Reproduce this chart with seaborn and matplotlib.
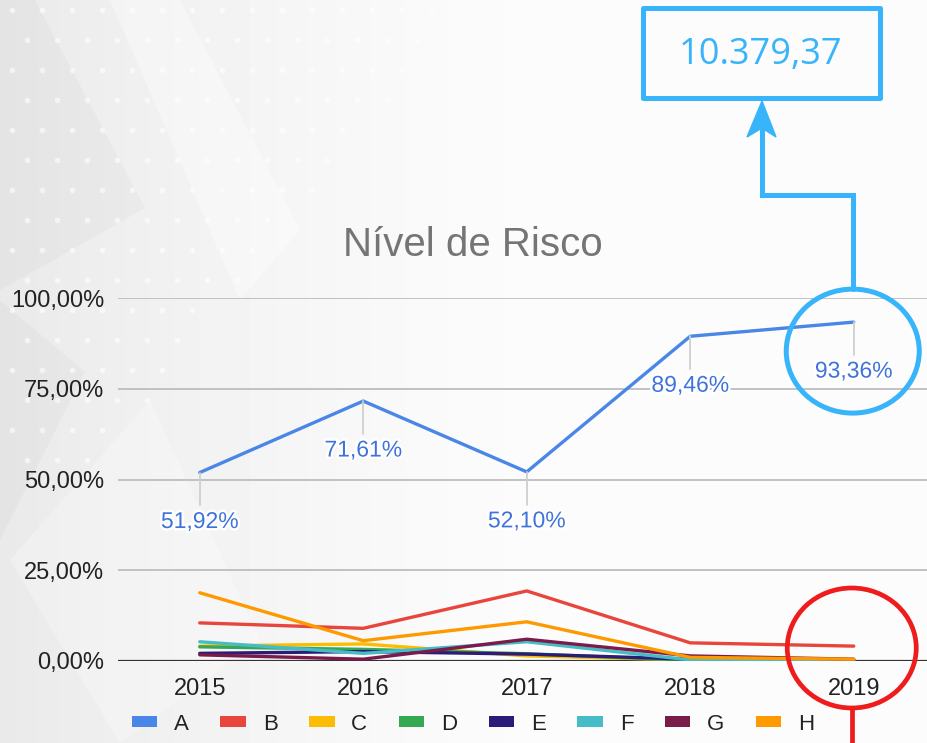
import numpy as np
import pandas as pd
import matplotlib
matplotlib.use("Agg")
import matplotlib.pyplot as plt
import matplotlib.patheffects as pe
from matplotlib.patches import Ellipse, Rectangle, Polygon, Patch
from matplotlib.lines import Line2D
from matplotlib.ticker import FuncFormatter
import seaborn as sns

# Dados do gráfico
anos = [2015, 2016, 2017, 2018, 2019]
series = ["A", "B", "C", "D", "E", "F", "G", "H"]
risco_a = [51.92, 71.61, 52.10, 89.46, 93.36]
risco_b = [10.5, 9.0, 19.3, 5.0, 4.1]
risco_c = [4.1, 4.7, 1.4, 0.3, 0.2]
risco_d = [3.9, 3.2, 2.0, 0.2, 0.1]
risco_e = [2.1, 2.6, 1.9, 0.5, 0.2]
risco_f = [5.3, 2.1, 5.3, 0.3, 0.1]
risco_g = [1.7, 0.5, 6.0, 1.4, 0.5]
risco_h = [18.8, 5.6, 10.8, 1.0, 0.5]
cores = ["#4a86e8", "#e8453c", "#fbbc04", "#34a853", "#2d1b78", "#46bdc6", "#7a1c4a", "#ff9900"]
yticks = [0, 25, 50, 75, 100]
titulo = "Nível de Risco"
total = "10.379,37"

valores = [risco_a, risco_b, risco_c, risco_d, risco_e, risco_f, risco_g, risco_h]
df = pd.DataFrame({
    "ano": np.tile(anos, len(series)),
    "serie": np.repeat(series, len(anos)),
    "risco": np.concatenate(valores),
})

sns.set_style("white")
plt.rcParams["font.family"] = ["Liberation Sans", "DejaVu Sans"]

W, H = 928, 743
fig = plt.figure(figsize=(W / 100, H / 100), dpi=100)

# fundo cinza claro com degradê, faixas diagonais e pontos decorativos
bg = fig.add_axes([0, 0, 1, 1], zorder=-5)
xx, yy = np.meshgrid(np.arange(W), np.arange(H))
img = 0.985 - 0.07 * np.clip(1 - xx / 520, 0, 1) ** 1.4
bg.imshow(img, cmap="gray", vmin=0, vmax=1, extent=[0, W, H, 0], aspect="auto")
bg.fill([0, 35, 145, 50, 0], [0, 0, 208, 262, 290], color="black", alpha=0.025, lw=0)
bg.fill([0, 85, 0], [300, 372, 540], color="black", alpha=0.025, lw=0)
bg.fill([110, 180, 300, 240], [0, 0, 230, 300], color="white", alpha=0.35, lw=0)
bg.fill([10, 150, 260, 120], [560, 400, 640, 743], color="white", alpha=0.25, lw=0)
dx, dy = [], []
for i in range(0, 16):
    for j in range(0, 16):
        px = 12 + i * 30 + (j % 2) * 15
        py = 10 + j * 30
        if px + 0.8 * py < 470 and py < 520:
            dx.append(px)
            dy.append(py)
bg.scatter(dx, dy, s=16, color="white", alpha=0.6, linewidths=0)
bg.set_xlim(0, W)
bg.set_ylim(H, 0)
bg.axis("off")

# área do gráfico
ax = fig.add_axes([118 / W, 82 / H, 810 / W, 363 / H])
ax.set_facecolor("none")
sns.lineplot(data=df, x="ano", y="risco", hue="serie", hue_order=series,
             palette=cores, linewidth=2.4, legend=False, ax=ax)

ax.set_xlim(2014.5, 2014.5 + 810 / 163.5)
ax.set_ylim(0, 100)
ax.set_yticks(yticks)
ax.yaxis.set_major_formatter(FuncFormatter(lambda v, p: f"{v:.2f}%".replace(".", ",")))
ax.set_xticks(anos)
ax.set_xticklabels([str(a) for a in anos])
ax.grid(axis="y", color="#bdbdbd", linewidth=1.3)
ax.grid(axis="x", visible=False)
ax.axhline(0, color="#333333", linewidth=1.6, zorder=1)
for s in ax.spines.values():
    s.set_visible(False)
ax.tick_params(axis="y", length=0, pad=10, labelsize=17, labelcolor="#222222")
ax.tick_params(axis="x", length=0, pad=12, labelsize=17, labelcolor="#222222")
ax.set_xlabel("")
ax.set_ylabel("")

# rótulos da série A
for a, v in zip(anos, risco_a):
    ax.plot([a, a], [v, v - 9.0], color="#cfcfcf", linewidth=1.3, zorder=2)
    ax.annotate(f"{v:.2f}%".replace(".", ","), xy=(a, v), xytext=(0, -49),
                textcoords="offset pixels", ha="center", va="center",
                fontsize=16.5, color="#3f73d9", annotation_clip=False,
                path_effects=[pe.withStroke(linewidth=3.5, foreground="white")], zorder=6)

fig.text(473 / W, 1 - 245 / H, titulo, ha="center", va="center", fontsize=29, color="#757575")

# legenda
handles = [Patch(facecolor=c, edgecolor="none") for c in cores]
fig.legend(handles, series, loc="center", bbox_to_anchor=(473 / W, 19 / H), ncol=8,
           frameon=False, fontsize=16, handlelength=1.15, handleheight=0.35,
           handletextpad=0.75, columnspacing=1.42, labelcolor="#222222")

# destaques (coordenadas de tela em pixels)
ident = matplotlib.transforms.IdentityTransform()
azul = "#38b4fa"
vermelho = "#ee1c1c"
px, py = ax.transData.transform((anos[-1], risco_a[-1]))
cx, cy = px - 1, py - 29
fig.add_artist(Ellipse((cx, cy), 133, 124, fill=False, edgecolor=azul, linewidth=3.6, transform=ident))
fig.add_artist(Line2D([cx, cx, 762, 762], [cy + 62, H - 195, H - 195, H - 128],
                      color=azul, linewidth=3.6, solid_joinstyle="miter", transform=ident))
fig.add_artist(Polygon([(762, H - 101), (747, H - 137), (762, H - 128), (776, H - 137)],
                       closed=True, color=azul, transform=ident))
fig.add_artist(Rectangle((643, H - 98), 237, 90, fill=False, edgecolor=azul, linewidth=3.6,
                         joinstyle="round", transform=ident))
fig.text(761 / W, 1 - 55 / H, total, ha="center", va="center", fontsize=26,
         color=azul, family=["Open Sans", "DejaVu Sans"])

rx, ry = ax.transData.transform((anos[-1], 0))
fig.add_artist(Ellipse((rx - 2, ry + 13), 129, 120, fill=False, edgecolor=vermelho, linewidth=3.4, transform=ident))
fig.add_artist(Line2D([rx - 2, rx - 2], [ry + 13 - 60, -5], color=vermelho, linewidth=3.4, transform=ident))

fig.savefig("out.png", dpi=100)
